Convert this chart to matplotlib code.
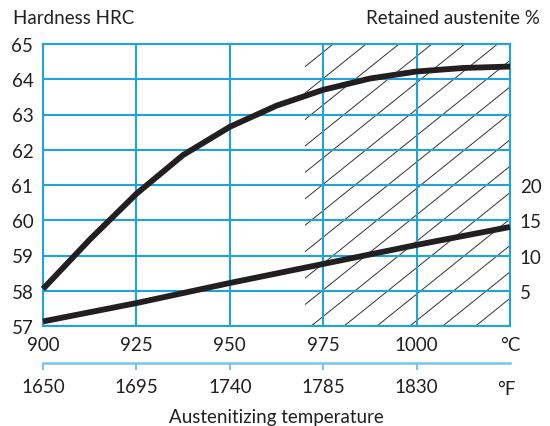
"""
Hardness and retained austenite vs austenitizing temperature.
"""

import matplotlib
matplotlib.use("Agg")
import matplotlib.pyplot as plt
from matplotlib.patches import Rectangle
import numpy as np

plt.rcParams["font.family"] = ["Lato", "DejaVu Sans"]

# data
temp_c = [900, 912.5, 925, 937.5, 950, 962.5, 975, 987.5, 1000, 1012.5, 1025]
hardness_hrc = [58.05, 59.45, 60.75, 61.85, 62.65, 63.25, 63.7, 64.02, 64.22, 64.32, 64.36]

aust_temp_c = [900, 925, 950, 975, 1000, 1025]
retained_austenite = [0.65, 3.25, 6.1, 8.8, 11.5, 14.05]

c_ticks = [900, 925, 950, 975, 1000]
f_ticks = [1650, 1695, 1740, 1785, 1830]
hrc_ticks = [57, 58, 59, 60, 61, 62, 63, 64, 65]
aust_ticks = [5, 10, 15, 20]
hatch_from = 970

BLUE = "#1fa3dd"
LIGHT_BLUE = "#74c7ec"
INK = "#231f20"
FS = 13.5


def c_to_f(c):
    return 1650 + (np.asarray(c) - 900) * 1.8


def f_to_c(f):
    return 900 + (np.asarray(f) - 1650) / 1.8


fig = plt.figure(figsize=(5.5, 4.27), dpi=100)
ax = fig.add_axes([43 / 550, 100 / 427, 467 / 550, 282 / 427])
ax.set_xlim(900, 1025)
ax.set_ylim(57, 65)

# grid
ax.set_xticks(c_ticks + [1025])
ax.set_xticklabels([str(t) for t in c_ticks] + ["°C"], fontsize=FS, color=INK)
ax.set_yticks(hrc_ticks)
ax.set_yticklabels([str(t) for t in hrc_ticks], fontsize=FS, color=INK)
ax.tick_params(length=0, pad=7)
ax.grid(True, color=BLUE, lw=1.5, zorder=1.5)
for s in ax.spines.values():
    s.set_color(BLUE)
    s.set_linewidth(1.5)

# hatched zone
clip = Rectangle((hatch_from, 57), 1025 - hatch_from, 8, transform=ax.transData,
                 fill=False, lw=0)
ax.add_patch(clip)
slope = 0.8 * 3.76 / 35.3  # ~39 deg in pixels
step = 8.8
for x0 in np.arange(hatch_from + 1.8 - 12 * step, 1030, step):
    xs = np.array([x0, x0 + 120])
    ln, = ax.plot(xs, 57 + slope * (xs - x0), color="#333333", lw=0.7, zorder=1)
    ln.set_clip_path(clip)

ax.plot(temp_c, hardness_hrc, color=INK, lw=4.2, solid_joinstyle="round",
        solid_capstyle="butt", zorder=3, clip_on=False)

# retained austenite axis
ax2 = ax.twinx()
ax2.set_ylim(0, 40)
ax2.set_yticks(aust_ticks)
ax2.set_yticklabels([str(t) for t in aust_ticks], fontsize=FS, color=INK)
ax2.tick_params(length=0, pad=7)
for s in ax2.spines.values():
    s.set_visible(False)
ax2.plot(aust_temp_c, retained_austenite, color=INK, lw=4.2,
         solid_capstyle="butt", zorder=3, clip_on=False)

# fahrenheit scale
secax = ax.secondary_xaxis(-0.131, functions=(c_to_f, f_to_c))
secax.set_xticks(f_ticks)
secax.set_xticklabels([str(t) for t in f_ticks], fontsize=FS, color=INK)
secax.spines["bottom"].set_color(LIGHT_BLUE)
secax.spines["bottom"].set_linewidth(1.8)
secax.tick_params(color=LIGHT_BLUE, width=1.5, length=5, pad=6)
secax.set_xlabel("Austenitizing temperature", fontsize=FS, color=INK, labelpad=9)
ax.text(1024, -0.22, "°F", transform=ax.get_xaxis_transform(),
        ha="center", va="center", fontsize=FS, color=INK)

fig.text(13 / 550, 1 - 18 / 427, "Hardness HRC", fontsize=FS, color=INK,
         ha="left", va="center")
fig.text(540 / 550, 1 - 18 / 427, "Retained austenite %", fontsize=FS, color=INK,
         ha="right", va="center")

fig.savefig("out.png", dpi=100)
